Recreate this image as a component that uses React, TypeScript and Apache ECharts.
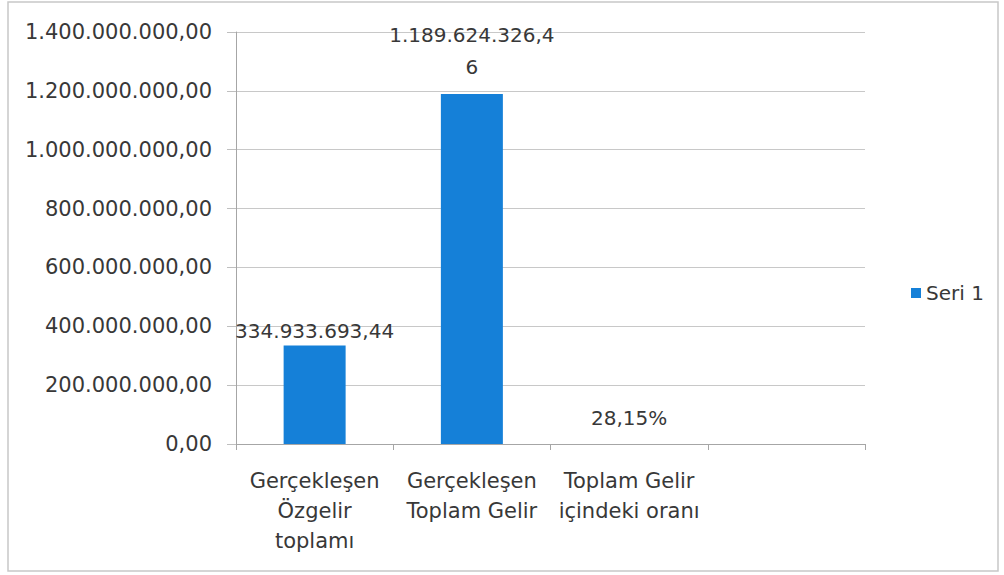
import React, { useEffect, useRef } from "react";
import * as echarts from "echarts";

const categories = [
  "Gerçekleşen\nÖzgelir\ntoplamı",
  "Gerçekleşen\nToplam Gelir",
  "Toplam Gelir\niçindeki oranı",
  "",
];
const seriesName = "Seri 1";
const values = [334933693.44, 1189624326.46, 0.2815];
const valueKinds = ["number", "number", "percent"];
const yMin = 0;
const yMax = 1400000000;
const yInterval = 200000000;

function trNumber(v: number, digits = 2): string {
  const neg = v < 0;
  const fixed = Math.abs(v).toFixed(digits);
  const [intPart, frac] = fixed.split(".");
  const grouped = intPart.replace(/\B(?=(\d{3})+(?!\d))/g, ".");
  return (neg ? "-" : "") + grouped + (frac !== undefined ? "," + frac : "");
}

const FONT = "DejaVu Sans";
const TEXT = "#383838";

export default function App() {
  const ref = useRef<HTMLDivElement>(null);
  useEffect(() => {
    document.body.style.margin = "0";
    if (!ref.current) return;
    const chart = echarts.init(ref.current, null, { renderer: "svg" });
    const distances = [2, 11, 14];
    const lineHeights = [24, 32, 24];
    chart.setOption({
      animation: false,
      backgroundColor: "#ffffff",
      textStyle: { fontFamily: FONT },
      graphic: [
        {
          type: "rect",
          shape: { x: 8, y: 2, width: 990, height: 569 },
          style: { fill: "none", stroke: "#c8c8c8", lineWidth: 1.5 },
          silent: true,
        },
      ],
      legend: {
        data: [seriesName],
        orient: "vertical",
        left: 906,
        top: 278,
        icon: "rect",
        itemWidth: 10,
        itemHeight: 10,
        itemGap: 6,
        textStyle: { fontFamily: FONT, fontSize: 20, color: TEXT },
      },
      grid: { left: 236, right: 139, top: 32, bottom: 131, containLabel: false },
      xAxis: {
        type: "category",
        data: categories,
        axisLine: { show: true, lineStyle: { color: "#a6a6a6", width: 1 } },
        axisTick: { show: true, alignWithLabel: false, length: 6, lineStyle: { color: "#a6a6a6" } },
        axisLabel: {
          interval: 0,
          fontFamily: FONT,
          fontSize: 21,
          color: TEXT,
          lineHeight: 30,
          margin: 22,
        },
      },
      yAxis: {
        type: "value",
        min: yMin,
        max: yMax,
        interval: yInterval,
        axisLine: { show: true, lineStyle: { color: "#a6a6a6", width: 1 } },
        axisTick: { show: true, length: 9, lineStyle: { color: "#bfbfbf" } },
        splitLine: { show: true, lineStyle: { color: "#c8c8c8", width: 1 } },
        axisLabel: {
          fontFamily: FONT,
          fontSize: 21,
          color: TEXT,
          margin: 24,
          formatter: (v: number) => trNumber(v),
        },
      },
      series: [
        {
          name: seriesName,
          type: "bar",
          barWidth: 62,
          itemStyle: { color: "#1580d8" },
          data: values.map((v, i) => ({
            value: v,
            label: {
              show: true,
              position: "top",
              distance: distances[i],
              lineHeight: lineHeights[i],
              fontFamily: FONT,
              fontSize: 20,
              color: TEXT,
              width: 178,
              overflow: "breakAll",
              formatter: () =>
                valueKinds[i] === "percent"
                  ? trNumber(v * 100) + "%"
                  : trNumber(v),
            },
          })),
        },
      ],
    });
    return () => chart.dispose();
  }, []);
  return <div ref={ref} style={{ width: 1004, height: 575 }} />;
}
